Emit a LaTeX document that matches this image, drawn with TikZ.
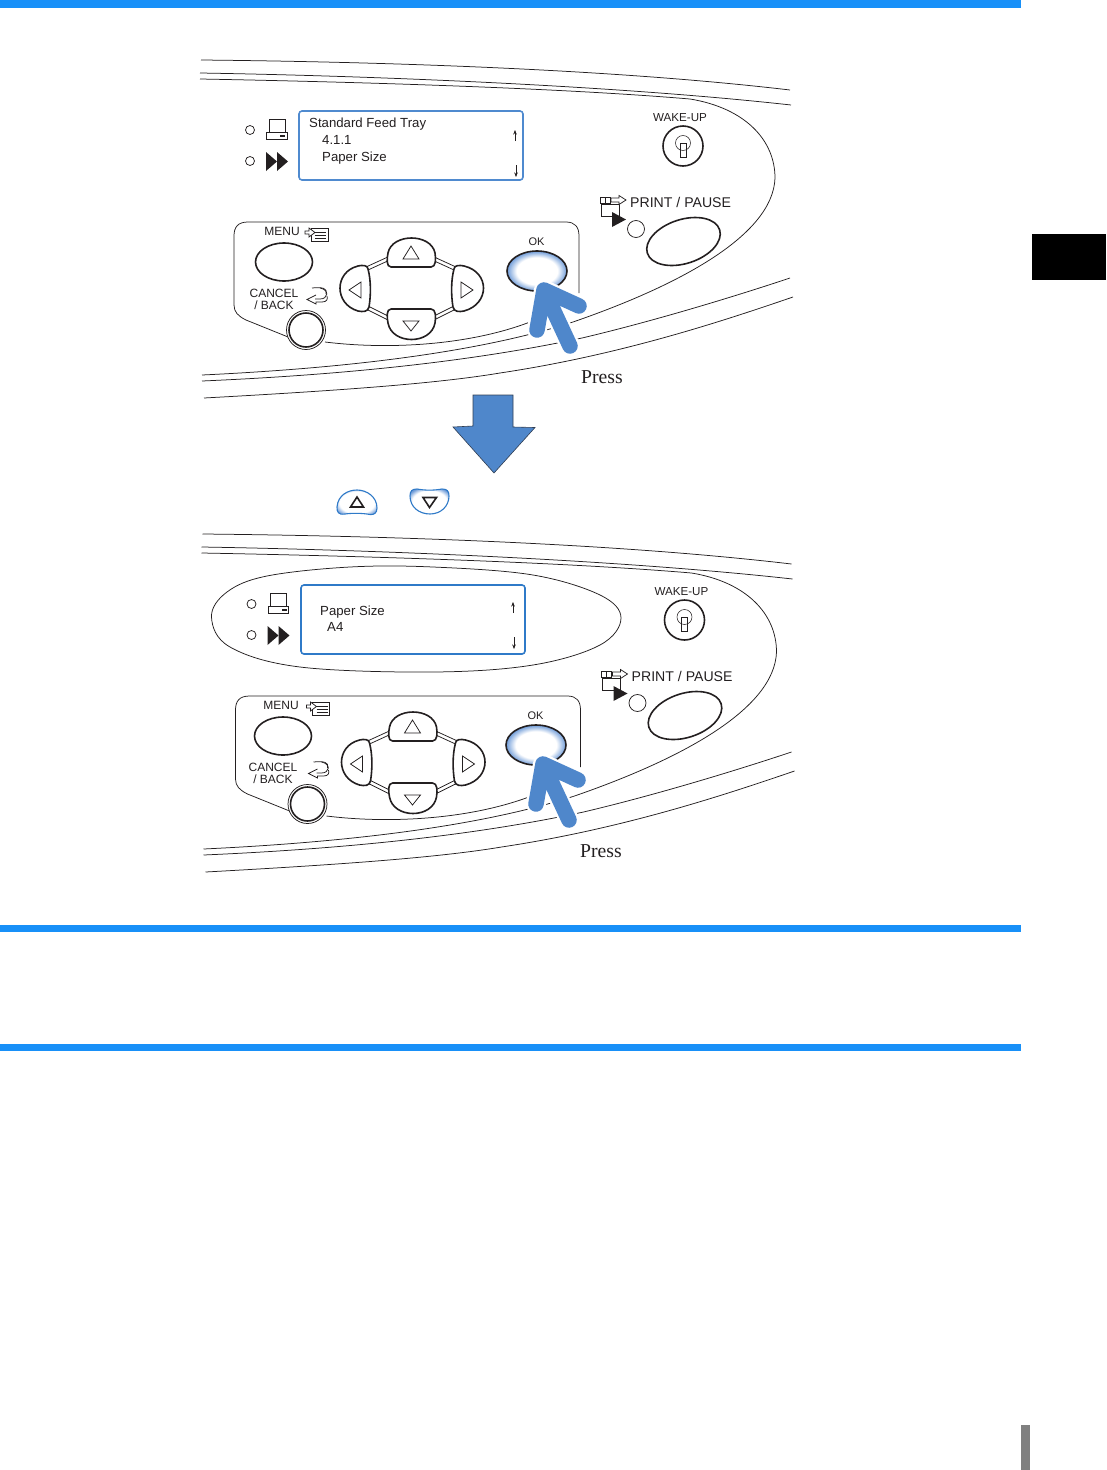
\documentclass[tikz,border=0pt]{standalone}
\usepackage{fontspec}
\usetikzlibrary{arrows.meta}
\setmainfont{Liberation Sans}
\newfontfamily\serifpress{Liberation Serif}
\definecolor{rulebar}{HTML}{1890F8}
\definecolor{arrowblue}{HTML}{4F87CB}
\definecolor{lcdblue}{HTML}{4F8ACF}
\definecolor{lcdbluedeep}{HTML}{2F7AC8}
\definecolor{inkc}{HTML}{231F20}
\definecolor{glowblue}{HTML}{6E9BD8}
\pgfdeclareradialshading{okglow}{\pgfpointorigin}{color(0bp)=(white); color(17bp)=(white); color(25bp)=(glowblue); color(50bp)=(glowblue)}
\pgfdeclareradialshading{smallglow}{\pgfpointorigin}{color(0bp)=(white); color(22bp)=(white); color(30bp)=(glowblue); color(50bp)=(glowblue)}
\tikzset{
 x=1pt,y=-1pt,
 thinl/.style={draw=inkc,line width=0.75pt},
 hair/.style={draw=inkc,line width=0.55pt},
 thickl/.style={draw=inkc,line width=1.6pt,line join=round},
 lblsm/.style={inner sep=0,font=\fontsize{12}{12}\selectfont,text=inkc},
 lblwake/.style={inner sep=0,font=\fontsize{11.6}{12}\selectfont,text=inkc},
 lblok/.style={inner sep=0,font=\fontsize{11}{12}\selectfont,text=inkc},
 lblbig/.style={inner sep=0,font=\fontsize{14.1}{16}\selectfont,text=inkc},
 lcdtxt/.style={inner sep=0,anchor=base west,font=\fontsize{13.2}{15}\selectfont,text=inkc},
 press/.style={inner sep=0,font=\serifpress\fontsize{19.7}{22}\selectfont,text=inkc},
 lcdarrow/.style={draw=inkc,line width=0.5pt,-{Stealth[length=4.5pt,width=3.5pt]}},
 panelart/.pic={
 % top curves
 \draw[thinl] (201,60) .. controls (400,62) and (620,70) .. (790,90);
 \draw[thinl] (200,73) .. controls (380,76) and (620,86) .. (791,105);
 % long outline: top line, right bulge, lower line
 \draw[thinl] (200,79) .. controls (360,82) and (560,88) .. (690,99)
   .. controls (745,108) and (775,140) .. (775,178)
   .. controls (773,235) and (680,285) .. (573,322)
   .. controls (480,352) and (350,368) .. (202,375);
 % lower lines
 \draw[thinl] (202,381) .. controls (340,375) and (470,362) .. (582,338)
   .. controls (650,322) and (730,298) .. (790,278);
 \draw[thinl] (204,398) .. controls (350,390) and (440,383) .. (500,373)
   .. controls (620,355) and (720,322) .. (793,297);
 % button panel
 \draw[thinl] (298,341) -- (246,320) .. controls (238,316) and (234,312) .. (234,305)
   -- (234,236) .. controls (234,227) and (238,222) .. (248,222)
   -- (566,222) .. controls (575,222) and (579,227) .. (579,236) -- (579,293);
 \draw[thinl] (325,342) .. controls (390,350) and (470,345) .. (530,322);
 % D-pad ring
 \draw[thinl] (366,267) -- (390,256);
 \draw[thinl] (368,270) -- (392,259);
 \draw[thinl] (432,256) -- (456,267);
 \draw[thinl] (430,259) -- (454,270);
 \draw[thinl] (366,309) -- (390,321);
 \draw[thinl] (368,306) -- (392,318);
 \draw[thinl] (432,321) -- (456,309);
 \draw[thinl] (430,318) -- (454,306);
 % D-pad buttons
 \draw[thickl,fill=white] (391,267) .. controls (386,267) and (387,258) .. (388,253) .. controls (392,233) and (431,233) .. (435,253) .. controls (436,259) and (436,267) .. (431,267) -- cycle;
 \draw[thinl] (411,246) -- (419,259) -- (403,259) -- cycle;
 \draw[thickl,fill=white] (391,309) .. controls (386,309) and (387,318) .. (388,323) .. controls (392,345) and (431,345) .. (435,323) .. controls (436,317) and (436,309) .. (431,309) -- cycle;
 \draw[thinl] (411,331) -- (419,321) -- (403,321) -- cycle;
 \draw[thickl,fill=white] (368,269) .. controls (368,265) and (362,265) .. (358,266) .. controls (334,272) and (334,304) .. (358,311) .. controls (363,312) and (368,312) .. (369,307) .. controls (371,295) and (371,280) .. (368,269) -- cycle;
 \draw[thinl] (349,290) -- (361,282) -- (361,298) -- cycle;
 \draw[thickl,fill=white] (454,269) .. controls (454,265) and (460,265) .. (464,266) .. controls (490,272) and (490,304) .. (464,311) .. controls (459,312) and (454,312) .. (453,307) .. controls (451,295) and (451,280) .. (454,269) -- cycle;
 \draw[thinl] (473,290) -- (461,282) -- (461,298) -- cycle;
 % cancel button
 \draw[thinl,fill=white] (306,330) circle[radius=19.5];
 \draw[thickl,fill=white] (306,330) circle[radius=17];
 % wake-up
 \draw[thickl] (683,146) circle[radius=20];
 \draw[hair] (683,143) circle[radius=7.5];
 \draw[hair] (680,143) -- (686,143) -- (686,157) -- (680,157) -- cycle;
 % print/pause button
 \draw[thickl] (683.5,241.5) ellipse[x radius=38,y radius=22,rotate=18];
 \draw[thinl] (636,229) circle[radius=8.5];
 % printpause icon
 \draw[draw=inkc,line width=1pt] (601,204) rectangle (619,216);
 \fill[inkc] (612,212) -- (626,219.5) -- (612,227) -- cycle;
 \draw[thinl,fill=white] (600,197) rectangle (605,203);
 \draw[thinl,fill=white] (605,197) rectangle (610,203);
 \draw[thinl,fill=white] (611,198) -- (619,198) -- (619,195.5) -- (626,200) -- (619,204.5) -- (619,202) -- (611,202) -- cycle;
 % menu icon
 \draw[thinl,fill=white] (311,228) rectangle (328,241);
 \draw[thinl] (315,232) -- (326,232) (315,235) -- (326,235) (315,238) -- (326,238);
 \draw[thinl,fill=white] (305,231) -- (309,231) -- (309,228) -- (315,232.5) -- (309,237) -- (309,234) -- (305,234) -- cycle;
 % cancel icon
 \draw[thinl] (326,294) .. controls (328,288) and (322,287) .. (312,288);
 \draw[thinl] (320,288) .. controls (330,290) and (328,299) .. (320,299) -- (315,299);
 \draw[thinl] (316,295) -- (307,299.5) -- (316,304) -- (316,302) -- (322,302) .. controls (327,302) and (328,299) .. (327,296);
 % LEDs and icons
 \draw[thinl] (250,130) circle[radius=4.5];
 \draw[thinl] (250,161) circle[radius=4.5];
 \draw[thinl] (269,119) rectangle (285,132);
 \draw[thinl] (266.5,132.5) rectangle (287,139);
 \fill[inkc] (280,134.5) rectangle (285,136.5);
 \fill[inkc] (266,152) -- (277,161.5) -- (266,171) -- cycle;
 \fill[inkc] (277,152) -- (288,161.5) -- (277,171) -- cycle;
 % labels
 \node[lblwake] (wlab) at (680,118) {WAKE-UP};
 \node[lblbig,anchor=west] (plab) at (630,202) {PRINT / PAUSE};
 },
 okpart/.pic={
 % menu
 \draw[thickl] (284,262) ellipse[x radius=28.5,y radius=19];
 \node[lblsm] (mlab) at (282,231.5) {MENU};
 \node[lblsm,align=center] (clab) at (274,299) {CANCEL\\/ BACK};
 % OK button
 \shade[shading=okglow] (537,271) ellipse[x radius=30,y radius=20];
 \draw[thickl] (537,271) ellipse[x radius=30,y radius=20];
 \node[lblok] (oklab) at (536.5,242) {OK};
 % big pointer: halo, then strokes
 \draw[white,line width=20pt,line cap=round,line join=round] (570,346) -- (544,290) (537,330) -- (544,290) -- (579,306);
 \draw[arrowblue,line width=15.5pt,line cap=round,line join=round] (570,346) -- (544,290) (537,330) -- (544,290) -- (579,306);
 \node[press] (presslab) at (602,377) {Press};
 }
}
\begin{document}
\begin{tikzpicture}
\useasboundingbox (0,0) rectangle (1106,1470);
% bars
\fill[rulebar] (0,0) rectangle (1021,8);
\fill[rulebar] (0,925) rectangle (1021,932);
\fill[rulebar] (0,1044) rectangle (1021,1051);
\fill[black] (1032,234) rectangle (1106,280);
\fill[black!50] (1021,1425) rectangle (1030,1470);

\path (0,0) pic {panelart};
\path (0,0) pic {okpart};
\path (1.5,474) pic {panelart};
\path (-1,474) pic {okpart};

% LCD 1
\draw[lcdblue,line width=1.6pt,rounded corners=3pt] (299,111) rectangle (523,180);
\node[lcdtxt] (l1a) at (309,127) {Standard Feed Tray};
\node[lcdtxt] (l1b) at (322,144) {4.1.1};
\node[lcdtxt] (l1c) at (322,161) {Paper Size};
\draw[lcdarrow] (515,141) -- (515,130);
\draw[lcdarrow] (516,165) -- (516,177);

% big down arrow
\draw[fill=arrowblue,draw=inkc!70!arrowblue,line width=0.6pt] (473,395) -- (513,395) -- (513,427) -- (535,427.5) -- (494,473) -- (453,427) -- (473,426) -- cycle;

% small buttons
\shade[shading=smallglow] (345,514) .. controls (338,515) and (337,512) .. (337,507) .. controls (338,495) and (348,490) .. (357,490) .. controls (367,490) and (377,497) .. (377,508) .. controls (377,513) and (374,515) .. (370,514.5) .. controls (362,513) and (352,513) .. (345,514) -- cycle;
\draw[draw=lcdbluedeep,line width=1.1pt] (345,514) .. controls (338,515) and (337,512) .. (337,507) .. controls (338,495) and (348,490) .. (357,490) .. controls (367,490) and (377,497) .. (377,508) .. controls (377,513) and (374,515) .. (370,514.5) .. controls (362,513) and (352,513) .. (345,514) -- cycle;
\draw[draw=inkc,line width=1.6pt] (357,497) -- (363.5,507) -- (350.5,507) -- cycle;
\shade[shading=smallglow] (417,489) .. controls (412,489) and (410,491) .. (410,496) .. controls (410,507) and (419,514) .. (430,514) .. controls (441,514) and (449,506) .. (449,496) .. controls (449,491) and (447,489) .. (442,489) .. controls (434,490.5) and (425,490.5) .. (417,489) -- cycle;
\draw[draw=lcdbluedeep,line width=1.1pt] (417,489) .. controls (412,489) and (410,491) .. (410,496) .. controls (410,507) and (419,514) .. (430,514) .. controls (441,514) and (449,506) .. (449,496) .. controls (449,491) and (447,489) .. (442,489) .. controls (434,490.5) and (425,490.5) .. (417,489) -- cycle;
\draw[draw=inkc,line width=1.6pt] (429.5,507.5) -- (436.5,497.5) -- (423,497.5) -- cycle;

% Pill
\draw[thinl] plot[smooth cycle,tension=0.6] coordinates {(211.5,617) (227,592) (267,576) (350,567) (433,567) (533,575) (600,595) (621,618) (600,645) (533,665) (433,672) (300,667) (230,647)};

% LCD 2
\draw[lcdbluedeep,line width=1.6pt,rounded corners=3pt,fill=white] (301,585) rectangle (525,654);
\node[lcdtxt] (l2a) at (320,615.5) {Paper Size};
\node[lcdtxt] (l2b) at (327,631.5) {A4};
\draw[lcdarrow] (513,613) -- (513,602);
\draw[lcdarrow] (514,637) -- (514,649);
\end{tikzpicture}
\end{document}
